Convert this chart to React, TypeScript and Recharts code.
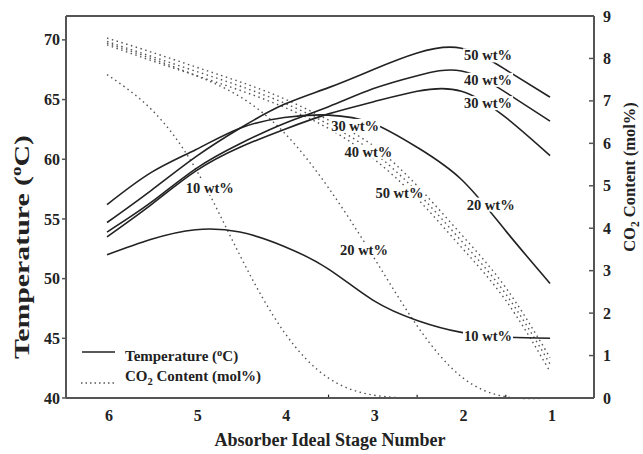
import React from "react";
import {
  ComposedChart,
  Line,
  XAxis,
  YAxis,
  ReferenceLine,
  ReferenceDot,
} from "recharts";

const FONT = "'Liberation Serif', 'Times New Roman', serif";
const INK = "#222";
const FRAME = "#555";

const stages = [6, 5.5, 5, 4.5, 4, 3.5, 3, 2.5, 2, 1.5, 1];

// temperature (oC), left axis
const temp10 = [52.0, 53.3, 54.1, 53.9, 52.7, 50.8, 48.2, 46.5, 45.5, 45.1, 45.0];
const temp20 = [56.2, 58.9, 60.8, 62.6, 63.5, 63.7, 63.0, 61.0, 58.3, 54.0, 49.6];
const temp30 = [53.5, 56.2, 59.0, 61.0, 62.5, 63.8, 64.8, 65.7, 65.7, 63.5, 60.3];
const temp40 = [53.9, 56.4, 59.2, 61.3, 63.0, 64.4, 65.9, 67.0, 67.4, 65.6, 63.2];
const temp50 = [54.7, 57.4, 60.2, 62.6, 64.6, 66.0, 67.5, 68.9, 69.3, 67.5, 65.2];

// CO2 content (mol%), right axis
const co2w10 = [7.62, 6.8, 5.4, 3.36, 1.55, 0.47, 0.07, 0, 0, 0, 0];
const co2w20 = [8.36, 8.0, 7.6, 7.1, 6.25, 4.95, 3.35, 1.7, 0.5, 0.03, 0];
const co2w30 = [8.48, 8.15, 7.8, 7.45, 7.05, 6.55, 5.95, 5.0, 3.85, 2.6, 0.95];
const co2w40 = [8.4, 8.05, 7.7, 7.35, 6.95, 6.45, 5.8, 4.85, 3.7, 2.45, 0.8];
const co2w50 = [8.32, 7.95, 7.6, 7.25, 6.85, 6.35, 5.65, 4.7, 3.55, 2.3, 0.62];

const stageTicks = [6, 5, 4, 3, 2, 1];
const tempTicks = [40, 45, 50, 55, 60, 65, 70];
const co2Ticks = [0, 1, 2, 3, 4, 5, 6, 7, 8, 9];
const minorStageTicks = [3.5, 2.5, 1.5];

// curve labels, placed in data coordinates
const tempLabels = [
  { text: "50 wt%", stage: 1.7, value: 68.7 },
  { text: "40 wt%", stage: 1.7, value: 66.65 },
  { text: "30 wt%", stage: 1.7, value: 64.7 },
  { text: "20 wt%", stage: 1.67, value: 56.2 },
  { text: "10 wt%", stage: 1.7, value: 45.2 },
];
const co2Labels = [
  { text: "10 wt%", stage: 4.84, value: 4.95 },
  { text: "20 wt%", stage: 3.1, value: 3.49 },
  { text: "30 wt%", stage: 3.2, value: 6.41 },
  { text: "40 wt%", stage: 3.05, value: 5.8 },
  { text: "50 wt%", stage: 2.7, value: 4.83 },
];

const data = stages.map((s, i) => ({
  stage: s,
  t10: temp10[i],
  t20: temp20[i],
  t30: temp30[i],
  t40: temp40[i],
  t50: temp50[i],
  c10: co2w10[i],
  c20: co2w20[i],
  c30: co2w30[i],
  c40: co2w40[i],
  c50: co2w50[i],
}));

const textProps = {
  fontFamily: FONT,
  fontWeight: "bold" as const,
  fill: INK,
};

function LeftTick({ x, y, payload }: any) {
  return (
    <g>
      <line x1={x - 4} x2={x} y1={y} y2={y} stroke={FRAME} strokeWidth={1.5} />
      <text x={x - 6} y={y} dy="0.35em" textAnchor="end" fontSize={16} {...textProps}>
        {payload.value}
      </text>
    </g>
  );
}

function RightTick({ x, y, payload }: any) {
  return (
    <g>
      <line x1={x - 5} x2={x} y1={y} y2={y} stroke={FRAME} strokeWidth={1.5} />
      <text x={x + 9} y={y} dy="0.35em" textAnchor="start" fontSize={16} {...textProps}>
        {payload.value}
      </text>
    </g>
  );
}

function BottomTick({ x, y, payload }: any) {
  return (
    <text x={x + 2} y={y + 23} textAnchor="middle" fontSize={16} {...textProps}>
      {payload.value}
    </text>
  );
}

function WtTag({ viewBox, text }: any) {
  const cx = viewBox.x + viewBox.width / 2;
  const cy = viewBox.y + viewBox.height / 2;
  return (
    <g>
      <rect x={cx - 25} y={cy - 7} width={50} height={14} fill="#fff" />
      <text x={cx} y={cy} dy="0.35em" textAnchor="middle" fontSize={14.5} {...textProps}>
        {text}
      </text>
    </g>
  );
}

function XTitle({ viewBox }: any) {
  return (
    <text x={viewBox.x + viewBox.width / 2} y={viewBox.y + 48} textAnchor="middle" fontSize={18} {...textProps}>
      Absorber Ideal Stage Number
    </text>
  );
}

function LeftTitle({ viewBox }: any) {
  const x = viewBox.x + 23;
  const y = viewBox.y + viewBox.height / 2 + 40;
  return (
    <text
      x={x}
      y={y}
      transform={`rotate(-90 ${x} ${y})`}
      textAnchor="middle"
      fontSize={22}
      textLength={224}
      lengthAdjust="spacingAndGlyphs"
      {...textProps}
    >
      Temperature (
      <tspan dy={-8} fontSize={14}>o</tspan>
      <tspan dy={8}>C)</tspan>
    </text>
  );
}

function RightTitle({ viewBox }: any) {
  const x = viewBox.x + 41;
  const y = viewBox.y + viewBox.height / 2 - 30;
  return (
    <text x={x} y={y} transform={`rotate(-90 ${x} ${y})`} textAnchor="middle" fontSize={16.5} {...textProps}>
      CO
      <tspan dy={4} fontSize={11.5}>2</tspan>
      <tspan dy={-4}> Content (mol%)</tspan>
    </text>
  );
}

function LegendBox() {
  return (
    <svg width={643} height={454} style={{ position: "absolute", left: 0, top: 0, pointerEvents: "none" }}>
      <line x1={82} x2={115} y1={352} y2={352} stroke={INK} strokeWidth={1.5} />
      <text x={125} y={361} fontSize={15} {...textProps}>
        Temperature (<tspan dy={-5} fontSize={10.5}>o</tspan>
        <tspan dy={5}>C)</tspan>
      </text>
      <line x1={81} x2={114} y1={383} y2={383} stroke="#555" strokeWidth={1.4} strokeDasharray="1.5 3" />
      <text x={125} y={381} fontSize={15} {...textProps}>
        CO<tspan dy={4} fontSize={10.5}>2</tspan>
        <tspan dy={-4}> Content (mol%)</tspan>
      </text>
    </svg>
  );
}

const solid = { stroke: INK, strokeWidth: 1.6, dot: false, isAnimationActive: false, type: "natural" as const };
const dotted = {
  stroke: "#555",
  strokeWidth: 1.4,
  strokeDasharray: "1.5 3.5",
  dot: false,
  isAnimationActive: false,
  type: "natural" as const,
};

export default function App() {
  return (
    <div style={{ position: "absolute", left: 0, top: 0, width: 643, height: 454, background: "#fff" }}>
      <ComposedChart width={643} height={454} data={data} margin={{ top: 16, right: 0, bottom: 0, left: 6 }}>
        <XAxis
          dataKey="stage"
          type="number"
          domain={[0.504, 6.463]}
          reversed
          ticks={stageTicks}
          tickSize={0}
          tickMargin={0}
          tickLine={false}
          tick={<BottomTick />}
          height={56}
          axisLine={{ stroke: FRAME, strokeWidth: 2 }}
          label={{ content: <XTitle /> }}
        />
        <YAxis
          yAxisId="left"
          orientation="left"
          type="number"
          domain={[40, 72]}
          ticks={tempTicks}
          width={60}
          tickSize={0}
          tickMargin={0}
          tickLine={false}
          tick={<LeftTick />}
          axisLine={{ stroke: FRAME, strokeWidth: 2 }}
          label={{ content: <LeftTitle /> }}
        />
        <YAxis
          yAxisId="right"
          orientation="right"
          type="number"
          domain={[0, 9]}
          ticks={co2Ticks}
          width={49}
          tickSize={0}
          tickMargin={0}
          tickLine={false}
          tick={<RightTick />}
          axisLine={{ stroke: FRAME, strokeWidth: 2 }}
          label={{ content: <RightTitle /> }}
        />
        <ReferenceLine yAxisId="left" y={72} stroke={FRAME} strokeWidth={2} />
        {minorStageTicks.map((s) => (
          <ReferenceLine
            key={s}
            yAxisId="left"
            segment={[
              { x: s, y: 40 },
              { x: s, y: 40.28 },
            ]}
            stroke={INK}
            strokeWidth={1.2}
          />
        ))}

        <Line yAxisId="right" dataKey="c10" {...dotted} />
        <Line yAxisId="right" dataKey="c20" {...dotted} />
        <Line yAxisId="right" dataKey="c30" {...dotted} />
        <Line yAxisId="right" dataKey="c40" {...dotted} />
        <Line yAxisId="right" dataKey="c50" {...dotted} />

        <Line yAxisId="left" dataKey="t10" {...solid} />
        <Line yAxisId="left" dataKey="t20" {...solid} />
        <Line yAxisId="left" dataKey="t30" {...solid} />
        <Line yAxisId="left" dataKey="t40" {...solid} />
        <Line yAxisId="left" dataKey="t50" {...solid} />

        {co2Labels.map((l) => (
          <ReferenceDot
            key={"c" + l.text}
            yAxisId="right"
            x={l.stage}
            y={l.value}
            r={0}
            fill="none"
            stroke="none"
            label={(p: any) => <WtTag {...p} text={l.text} />}
          />
        ))}
        {tempLabels.map((l) => (
          <ReferenceDot
            key={"t" + l.text}
            yAxisId="left"
            x={l.stage}
            y={l.value}
            r={0}
            fill="none"
            stroke="none"
            label={(p: any) => <WtTag {...p} text={l.text} />}
          />
        ))}
      </ComposedChart>
      <LegendBox />
    </div>
  );
}
